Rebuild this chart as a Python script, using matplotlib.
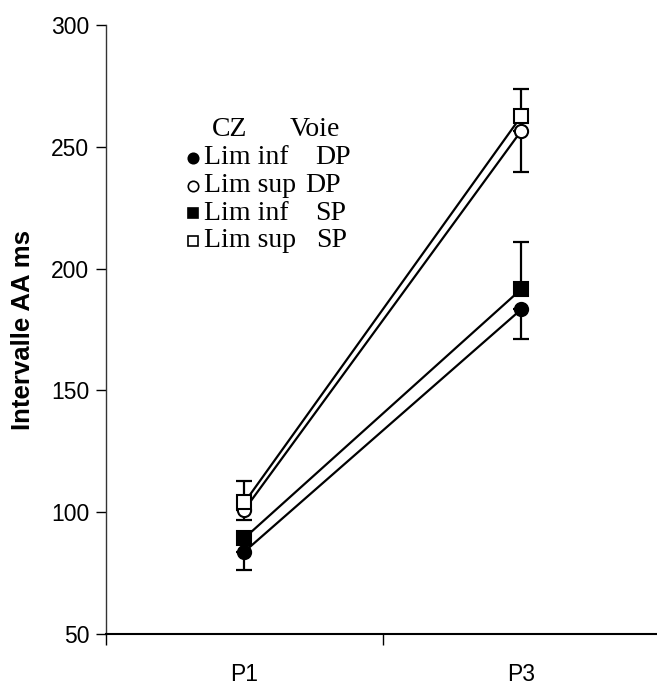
import matplotlib
matplotlib.use("Agg")
from matplotlib import pyplot as plt
from matplotlib.ticker import FixedLocator

# periods and mean AA intervals (ms) for each CZ limit / pathway
periods = ["P1", "P3"]
dp_inf = [83.8, 183.3]
dp_sup = [101.0, 256.6]
sp_inf = [89.4, 191.6]
sp_sup = [104.0, 262.6]

# one-sided error bars: lower for DP series, upper for SP series
dp_inf_err = [7.5, 12.3]
dp_sup_err = [4.0, 16.8]
sp_inf_err = [2.6, 19.4]
sp_sup_err = [8.8, 11.0]

yticks = [50, 100, 150, 200, 250, 300]

sans = "Liberation Sans"

W, H = 657, 685
fig = plt.figure(figsize=(W / 100, H / 100), dpi=100)
ax = fig.add_axes([106 / W, 1 - 634 / H, 1 - 106 / W, (634 - 25) / H])

xs = [0.5, 1.5]
series = [
    (dp_inf, dp_inf_err, "lower", "o", "black"),
    (dp_sup, dp_sup_err, "lower", "o", "white"),
    (sp_inf, sp_inf_err, "upper", "s", "black"),
    (sp_sup, sp_sup_err, "upper", "s", "white"),
]

for vals, err, side, mk, face in series:
    zero = [0] * len(err)
    yerr = [err, zero] if side == "lower" else [zero, err]
    ax.errorbar(xs, vals, yerr=yerr, fmt="none", ecolor="black",
                elinewidth=1.6, capsize=6, capthick=1.6, zorder=2)
    ax.plot(xs, vals, color="black", lw=1.6, zorder=3)
    ax.plot(xs, vals, linestyle="none", marker=mk, markersize=9.5,
            markerfacecolor=face, markeredgecolor="black",
            markeredgewidth=1.5, zorder=4)

ax.set_xlim(0, 1.99)
ax.set_ylim(50, 300)
ax.set_yticks(yticks)
ax.set_xticks(xs)
ax.set_xticklabels(periods)
ax.xaxis.set_minor_locator(FixedLocator([0, 1]))
ax.tick_params(axis="x", which="major", length=0, pad=21)
ax.tick_params(axis="x", which="minor", length=8, width=1, direction="out")
ax.tick_params(axis="y", length=7, width=1, direction="out", pad=5)

for spine in ["top", "right"]:
    ax.spines[spine].set_visible(False)
ax.spines["left"].set_linewidth(1.0)
ax.spines["left"].set_color("#333333")
ax.spines["bottom"].set_linewidth(1.5)

for lbl in ax.get_yticklabels() + ax.get_xticklabels():
    lbl.set_fontfamily(sans)
    lbl.set_fontsize(16.5)


def fx(px):
    return px / W


def fy(py):
    return 1 - py / H


# axis title placed directly on the figure
fig.text(fx(23), fy(330), "Intervalle AA ms", rotation=90, ha="center",
         va="center", fontfamily=sans, fontsize=18.5, fontweight="bold")

# hand-built key in the upper-left part of the plot
serif = {"family": "Liberation Serif", "size": 20}

fig.text(fx(212), fy(129), "CZ", va="center", ha="left", **serif)
fig.text(fx(290), fy(129), "Voie", va="center", ha="left", **serif)
key_rows = [
    ("o", "black", "Lim inf", "DP", 158, 315),
    ("o", "white", "Lim sup", "DP", 186, 305),
    ("s", "black", "Lim inf", "SP", 213, 315),
    ("s", "white", "Lim sup", "SP", 241, 316),
]
for mk, face, lim, path, py, px_path in key_rows:
    fig.lines.append(plt.Line2D([fx(193)], [fy(py)], transform=fig.transFigure,
                                marker=mk, markersize=7.5, markerfacecolor=face,
                                markeredgecolor="black", markeredgewidth=1.2,
                                linestyle="none"))
    fig.text(fx(204), fy(py), lim, va="center", ha="left", **serif)
    fig.text(fx(px_path), fy(py), path, va="center", ha="left", **serif)

fig.savefig("out.png", dpi=100)
